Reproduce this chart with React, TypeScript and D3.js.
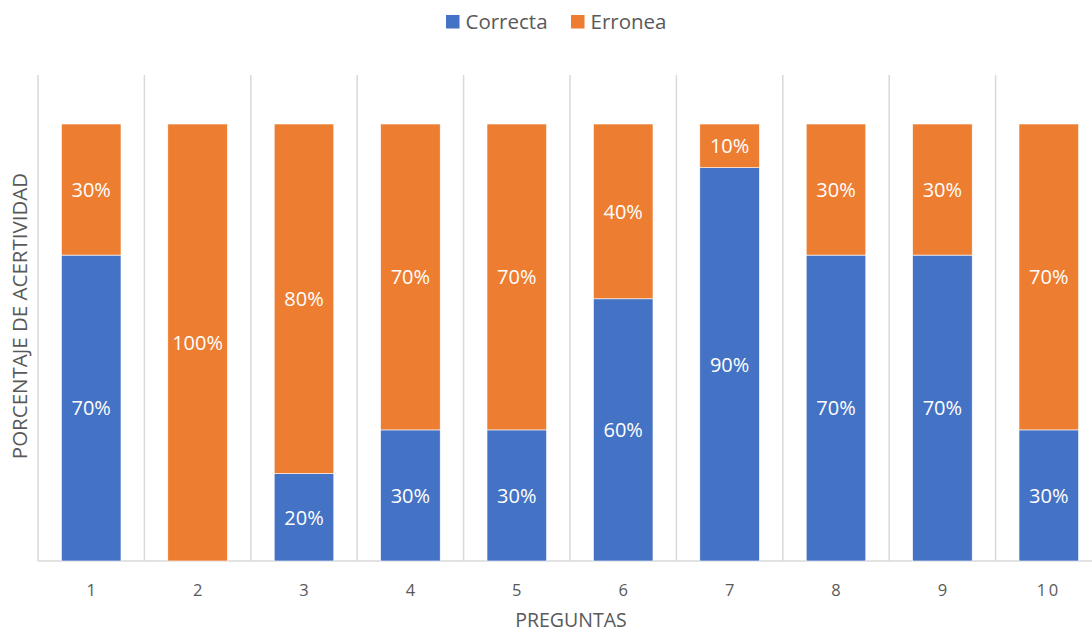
import React from "react";
import * as d3 from "d3";

const preguntas = ["1", "2", "3", "4", "5", "6", "7", "8", "9", "10"];
const correcta = [70, 0, 20, 30, 30, 60, 90, 70, 70, 30];
const erronea = [30, 100, 80, 70, 70, 40, 10, 30, 30, 70];
const seriesNames = ["Correcta", "Erronea"];
const seriesColors = ["#4472C4", "#ED7D31"];

const W = 1092;
const H = 633;
const plotLeft = 38;
const plotRight = 1102;
const plotTop = 75;
const plotBottom = 561;
const barTop = 124;
const FONT = "'Open Sans', 'Noto Sans', sans-serif";

export default function App() {
  const x = d3
    .scaleBand<string>()
    .domain(preguntas)
    .range([plotLeft, plotRight])
    .paddingInner(0.44)
    .paddingOuter(0.22);
  const y = d3.scaleLinear().domain([0, 100]).range([plotBottom, barTop]);

  const table = preguntas.map((p, i) => ({ p, Correcta: correcta[i], Erronea: erronea[i] }));
  const stacked = d3.stack<any>().keys(seriesNames)(table);

  const bounds = d3.range(preguntas.length + 1).map((i) => plotLeft + i * (plotRight - plotLeft) / preguntas.length);

  return (
    <svg width={W} height={H} style={{ position: "absolute", left: 0, top: 0, background: "#fff" }} fontFamily={FONT}>
      {/* category separators */}
      {bounds.map((bx, i) => (
        <line key={i} x1={bx} x2={bx} y1={plotTop} y2={plotBottom} stroke="#d9d9d9" strokeWidth={1.5} />
      ))}
      <line x1={plotLeft} x2={plotRight} y1={plotBottom} y2={plotBottom} stroke="#d9d9d9" strokeWidth={1.5} />

      {stacked.map((s, si) => (
        <g key={s.key}>
          {s.map((d, i) => {
            const h = y(d[0]) - y(d[1]);
            if (h <= 0) return null;
            const bx = x(preguntas[i])!;
            return (
              <g key={i}>
                <rect x={bx} y={y(d[1])} width={x.bandwidth()} height={h} fill={seriesColors[si]} stroke="#fff" strokeWidth={0.6} />
                <text
                  x={bx + x.bandwidth() / 2}
                  y={(y(d[0]) + y(d[1])) / 2}
                  dy="0.36em"
                  textAnchor="middle"
                  fill="#fff"
                  fontSize={20}
                >
                  {(d[1] - d[0]) + "%"}
                </text>
              </g>
            );
          })}
        </g>
      ))}

      {/* category labels */}
      {preguntas.map((p) => (
        <text
          key={p}
          x={x(p)! + x.bandwidth() / 2}
          y={590}
          dy="0.36em"
          textAnchor="middle"
          fill="#595959"
          fontSize={16.5}
          letterSpacing={p.length > 1 ? 2.5 : 0}
        >
          {p}
        </text>
      ))}

      <text x={571} y={620} dy="0.36em" textAnchor="middle" fill="#595959" fontSize={19.5}>
        PREGUNTAS
      </text>
      <text
        transform={`translate(20,316) rotate(-90)`}
        dy="0.36em"
        textAnchor="middle"
        fill="#595959"
        fontSize={20.5}
      >
        PORCENTAJE DE ACERTIVIDAD
      </text>

      {/* legend */}
      {seriesNames.map((n, i) => {
        const lx = i === 0 ? 446 : 571;
        return (
          <g key={n}>
            <rect x={lx} y={15} width={13.5} height={13.5} fill={seriesColors[i]} />
            <text x={lx + 19.5} y={21.5} dy="0.36em" fill="#595959" fontSize={20.5}>
              {n}
            </text>
          </g>
        );
      })}
    </svg>
  );
}
